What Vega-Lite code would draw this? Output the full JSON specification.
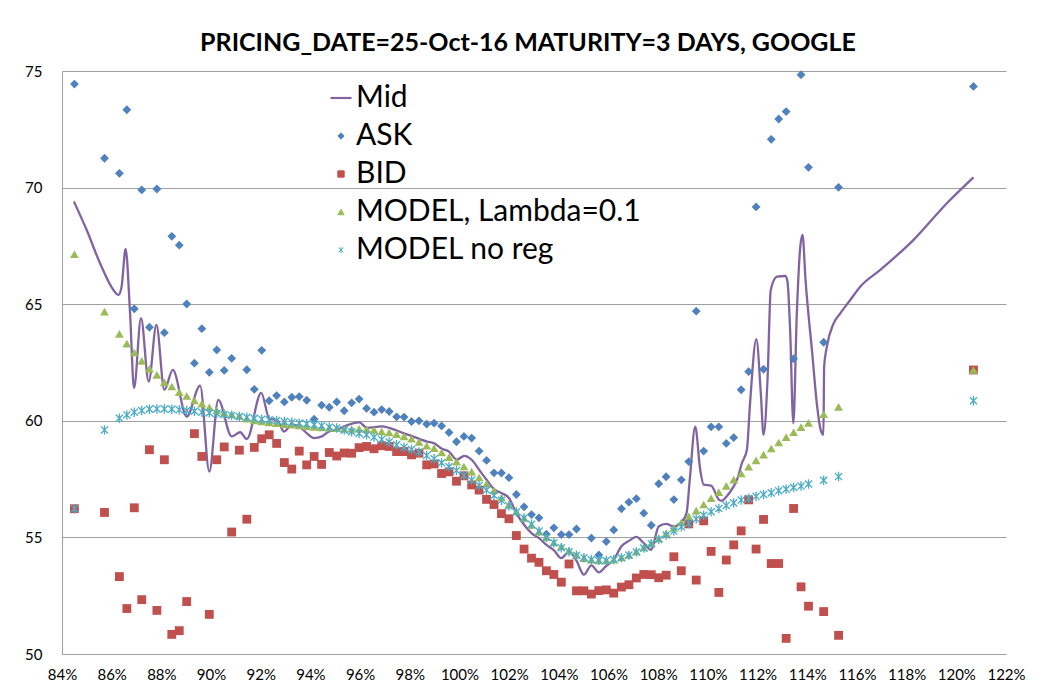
{
  "$schema": "https://vega.github.io/schema/vega-lite/v6.json",
  "width": 944,
  "height": 583,
  "autosize": {"type": "none"},
  "padding": {"left": 62, "top": 71, "right": 40, "bottom": 36},
  "background": "white",
  "title": {
    "text": "PRICING_DATE=25-Oct-16 MATURITY=3 DAYS, GOOGLE",
    "font": "Lato",
    "fontWeight": "bold",
    "fontSize": 25,
    "color": "#000000",
    "anchor": "middle",
    "offset": 8,
    "dx": -6
  },
  "config": {
    "view": {"stroke": null},
    "font": "Lato",
    "axis": {"labelFont": "Lato", "labelFontSize": 15, "labelColor": "#000000"}
  },
  "datasets": {
    "mid": [
      {"series": "Mid", "m": 84.48, "v": 69.40},
      {"series": "Mid", "m": 84.99, "v": 68.19},
      {"series": "Mid", "m": 85.53, "v": 66.76},
      {"series": "Mid", "m": 86.07, "v": 65.61},
      {"series": "Mid", "m": 86.27, "v": 65.40},
      {"series": "Mid", "m": 86.40, "v": 65.76},
      {"series": "Mid", "m": 86.56, "v": 67.37},
      {"series": "Mid", "m": 86.74, "v": 64.61},
      {"series": "Mid", "m": 86.90, "v": 61.40},
      {"series": "Mid", "m": 87.18, "v": 64.40},
      {"series": "Mid", "m": 87.49, "v": 61.68},
      {"series": "Mid", "m": 87.80, "v": 64.11},
      {"series": "Mid", "m": 88.12, "v": 61.33},
      {"series": "Mid", "m": 88.46, "v": 62.18},
      {"series": "Mid", "m": 89.02, "v": 60.18},
      {"series": "Mid", "m": 89.56, "v": 61.51},
      {"series": "Mid", "m": 89.93, "v": 57.82},
      {"series": "Mid", "m": 90.29, "v": 60.90},
      {"series": "Mid", "m": 90.83, "v": 59.33},
      {"series": "Mid", "m": 91.17, "v": 59.51},
      {"series": "Mid", "m": 91.44, "v": 59.22},
      {"series": "Mid", "m": 92.02, "v": 61.20},
      {"series": "Mid", "m": 92.35, "v": 60.08},
      {"series": "Mid", "m": 92.65, "v": 60.04},
      {"series": "Mid", "m": 92.94, "v": 59.54},
      {"series": "Mid", "m": 93.25, "v": 59.83},
      {"series": "Mid", "m": 93.54, "v": 59.76},
      {"series": "Mid", "m": 93.85, "v": 59.47},
      {"series": "Mid", "m": 94.15, "v": 59.26},
      {"series": "Mid", "m": 94.46, "v": 59.33},
      {"series": "Mid", "m": 94.75, "v": 59.54},
      {"series": "Mid", "m": 95.06, "v": 59.61},
      {"series": "Mid", "m": 95.36, "v": 59.76},
      {"series": "Mid", "m": 95.97, "v": 59.93},
      {"series": "Mid", "m": 96.27, "v": 59.70},
      {"series": "Mid", "m": 96.87, "v": 59.76},
      {"series": "Mid", "m": 97.17, "v": 59.70},
      {"series": "Mid", "m": 97.74, "v": 59.47},
      {"series": "Mid", "m": 98.07, "v": 59.35},
      {"series": "Mid", "m": 98.69, "v": 59.11},
      {"series": "Mid", "m": 98.98, "v": 59.04},
      {"series": "Mid", "m": 99.29, "v": 58.80},
      {"series": "Mid", "m": 99.58, "v": 58.68},
      {"series": "Mid", "m": 99.89, "v": 58.33},
      {"series": "Mid", "m": 100.19, "v": 58.50},
      {"series": "Mid", "m": 100.49, "v": 58.33},
      {"series": "Mid", "m": 100.79, "v": 57.90},
      {"series": "Mid", "m": 101.09, "v": 57.47},
      {"series": "Mid", "m": 101.39, "v": 57.07},
      {"series": "Mid", "m": 101.69, "v": 56.90},
      {"series": "Mid", "m": 101.99, "v": 56.69},
      {"series": "Mid", "m": 102.29, "v": 56.04},
      {"series": "Mid", "m": 102.60, "v": 55.54},
      {"series": "Mid", "m": 102.90, "v": 55.18},
      {"series": "Mid", "m": 103.20, "v": 54.97},
      {"series": "Mid", "m": 103.50, "v": 54.68},
      {"series": "Mid", "m": 103.80, "v": 54.45},
      {"series": "Mid", "m": 104.10, "v": 54.11},
      {"series": "Mid", "m": 104.41, "v": 54.40},
      {"series": "Mid", "m": 104.71, "v": 54.00},
      {"series": "Mid", "m": 105.01, "v": 53.40},
      {"series": "Mid", "m": 105.31, "v": 53.80},
      {"series": "Mid", "m": 105.61, "v": 53.50},
      {"series": "Mid", "m": 105.91, "v": 53.78},
      {"series": "Mid", "m": 106.21, "v": 54.04},
      {"series": "Mid", "m": 106.52, "v": 54.62},
      {"series": "Mid", "m": 106.82, "v": 54.85},
      {"series": "Mid", "m": 107.12, "v": 55.02},
      {"series": "Mid", "m": 107.42, "v": 54.75},
      {"series": "Mid", "m": 107.72, "v": 54.47},
      {"series": "Mid", "m": 108.02, "v": 55.47},
      {"series": "Mid", "m": 108.32, "v": 55.58},
      {"series": "Mid", "m": 108.63, "v": 55.47},
      {"series": "Mid", "m": 108.93, "v": 55.65},
      {"series": "Mid", "m": 109.14, "v": 56.04},
      {"series": "Mid", "m": 109.28, "v": 57.60},
      {"series": "Mid", "m": 109.49, "v": 59.75},
      {"series": "Mid", "m": 109.69, "v": 57.90},
      {"series": "Mid", "m": 109.83, "v": 57.26},
      {"series": "Mid", "m": 110.13, "v": 57.22},
      {"series": "Mid", "m": 110.45, "v": 56.61},
      {"series": "Mid", "m": 110.56, "v": 56.57},
      {"series": "Mid", "m": 110.76, "v": 56.76},
      {"series": "Mid", "m": 111.03, "v": 57.18},
      {"series": "Mid", "m": 111.17, "v": 57.47},
      {"series": "Mid", "m": 111.37, "v": 58.19},
      {"series": "Mid", "m": 111.57, "v": 58.76},
      {"series": "Mid", "m": 111.70, "v": 60.80},
      {"series": "Mid", "m": 111.95, "v": 63.50},
      {"series": "Mid", "m": 112.13, "v": 61.19},
      {"series": "Mid", "m": 112.24, "v": 59.40},
      {"series": "Mid", "m": 112.40, "v": 61.76},
      {"series": "Mid", "m": 112.53, "v": 65.61},
      {"series": "Mid", "m": 112.78, "v": 66.18},
      {"series": "Mid", "m": 113.11, "v": 66.21},
      {"series": "Mid", "m": 113.20, "v": 66.00},
      {"series": "Mid", "m": 113.31, "v": 63.90},
      {"series": "Mid", "m": 113.44, "v": 59.90},
      {"series": "Mid", "m": 113.58, "v": 64.61},
      {"series": "Mid", "m": 113.72, "v": 67.47},
      {"series": "Mid", "m": 113.81, "v": 67.97},
      {"series": "Mid", "m": 113.93, "v": 66.04},
      {"series": "Mid", "m": 114.20, "v": 62.90},
      {"series": "Mid", "m": 114.40, "v": 60.60},
      {"series": "Mid", "m": 114.54, "v": 59.61},
      {"series": "Mid", "m": 114.65, "v": 59.40},
      {"series": "Mid", "m": 114.68, "v": 62.33},
      {"series": "Mid", "m": 114.79, "v": 63.18},
      {"series": "Mid", "m": 115.06, "v": 64.18},
      {"series": "Mid", "m": 115.33, "v": 64.61},
      {"series": "Mid", "m": 115.73, "v": 65.18},
      {"series": "Mid", "m": 116.14, "v": 65.76},
      {"series": "Mid", "m": 116.94, "v": 66.47},
      {"series": "Mid", "m": 118.28, "v": 67.76},
      {"series": "Mid", "m": 119.62, "v": 69.33},
      {"series": "Mid", "m": 120.69, "v": 70.44}
    ],
    "quotes": [
      {"series": "ASK", "m": 84.50, "v": 74.44},
      {"series": "ASK", "m": 85.71, "v": 71.26},
      {"series": "ASK", "m": 86.31, "v": 70.61},
      {"series": "ASK", "m": 86.61, "v": 73.34},
      {"series": "ASK", "m": 86.91, "v": 64.80},
      {"series": "ASK", "m": 87.21, "v": 69.90},
      {"series": "ASK", "m": 87.52, "v": 64.01},
      {"series": "ASK", "m": 87.82, "v": 69.94},
      {"series": "ASK", "m": 88.12, "v": 63.78},
      {"series": "ASK", "m": 88.42, "v": 67.91},
      {"series": "ASK", "m": 88.72, "v": 67.53},
      {"series": "ASK", "m": 89.02, "v": 65.01},
      {"series": "ASK", "m": 89.33, "v": 62.47},
      {"series": "ASK", "m": 89.63, "v": 63.95},
      {"series": "ASK", "m": 89.93, "v": 62.08},
      {"series": "ASK", "m": 90.23, "v": 63.04},
      {"series": "ASK", "m": 90.53, "v": 62.16},
      {"series": "ASK", "m": 90.83, "v": 62.68},
      {"series": "ASK", "m": 91.44, "v": 62.19},
      {"series": "ASK", "m": 91.74, "v": 61.35},
      {"series": "ASK", "m": 92.04, "v": 63.02},
      {"series": "ASK", "m": 92.34, "v": 60.86},
      {"series": "ASK", "m": 92.64, "v": 61.08},
      {"series": "ASK", "m": 92.95, "v": 60.81},
      {"series": "ASK", "m": 93.25, "v": 61.01},
      {"series": "ASK", "m": 93.55, "v": 61.04},
      {"series": "ASK", "m": 93.85, "v": 60.88},
      {"series": "ASK", "m": 94.15, "v": 60.07},
      {"series": "ASK", "m": 94.45, "v": 60.67},
      {"series": "ASK", "m": 94.76, "v": 60.58},
      {"series": "ASK", "m": 95.06, "v": 60.81},
      {"series": "ASK", "m": 95.36, "v": 60.43},
      {"series": "ASK", "m": 95.66, "v": 60.77},
      {"series": "ASK", "m": 95.96, "v": 60.93},
      {"series": "ASK", "m": 96.26, "v": 60.53},
      {"series": "ASK", "m": 96.56, "v": 60.37},
      {"series": "ASK", "m": 96.87, "v": 60.48},
      {"series": "ASK", "m": 97.17, "v": 60.40},
      {"series": "ASK", "m": 97.47, "v": 60.17},
      {"series": "ASK", "m": 97.77, "v": 60.16},
      {"series": "ASK", "m": 98.07, "v": 59.97},
      {"series": "ASK", "m": 98.37, "v": 60.00},
      {"series": "ASK", "m": 98.68, "v": 59.86},
      {"series": "ASK", "m": 98.98, "v": 59.90},
      {"series": "ASK", "m": 99.28, "v": 59.78},
      {"series": "ASK", "m": 99.58, "v": 59.50},
      {"series": "ASK", "m": 99.88, "v": 59.10},
      {"series": "ASK", "m": 100.18, "v": 59.33},
      {"series": "ASK", "m": 100.49, "v": 59.26},
      {"series": "ASK", "m": 100.79, "v": 58.70},
      {"series": "ASK", "m": 101.09, "v": 58.30},
      {"series": "ASK", "m": 101.39, "v": 57.77},
      {"series": "ASK", "m": 101.69, "v": 57.76},
      {"series": "ASK", "m": 101.99, "v": 57.56},
      {"series": "ASK", "m": 102.29, "v": 56.84},
      {"series": "ASK", "m": 102.60, "v": 56.31},
      {"series": "ASK", "m": 102.90, "v": 55.98},
      {"series": "ASK", "m": 103.20, "v": 55.84},
      {"series": "ASK", "m": 103.50, "v": 55.14},
      {"series": "ASK", "m": 103.80, "v": 55.41},
      {"series": "ASK", "m": 104.10, "v": 55.12},
      {"series": "ASK", "m": 104.41, "v": 55.12},
      {"series": "ASK", "m": 104.71, "v": 55.36},
      {"series": "ASK", "m": 105.31, "v": 54.97},
      {"series": "ASK", "m": 105.61, "v": 54.25},
      {"series": "ASK", "m": 105.91, "v": 54.82},
      {"series": "ASK", "m": 106.21, "v": 55.32},
      {"series": "ASK", "m": 106.52, "v": 56.23},
      {"series": "ASK", "m": 106.82, "v": 56.51},
      {"series": "ASK", "m": 107.12, "v": 56.66},
      {"series": "ASK", "m": 107.42, "v": 56.04},
      {"series": "ASK", "m": 107.72, "v": 55.52},
      {"series": "ASK", "m": 108.02, "v": 57.30},
      {"series": "ASK", "m": 108.32, "v": 57.60},
      {"series": "ASK", "m": 108.63, "v": 56.62},
      {"series": "ASK", "m": 108.93, "v": 57.47},
      {"series": "ASK", "m": 109.23, "v": 58.25},
      {"series": "ASK", "m": 109.53, "v": 64.70},
      {"series": "ASK", "m": 109.83, "v": 58.70},
      {"series": "ASK", "m": 110.13, "v": 59.74},
      {"series": "ASK", "m": 110.44, "v": 59.74},
      {"series": "ASK", "m": 110.74, "v": 59.03},
      {"series": "ASK", "m": 111.04, "v": 59.28},
      {"series": "ASK", "m": 111.34, "v": 61.33},
      {"series": "ASK", "m": 111.64, "v": 62.11},
      {"series": "ASK", "m": 111.94, "v": 69.17},
      {"series": "ASK", "m": 112.24, "v": 62.21},
      {"series": "ASK", "m": 112.55, "v": 72.07},
      {"series": "ASK", "m": 112.85, "v": 72.94},
      {"series": "ASK", "m": 113.15, "v": 73.26},
      {"series": "ASK", "m": 113.45, "v": 62.66},
      {"series": "ASK", "m": 113.75, "v": 74.84},
      {"series": "ASK", "m": 114.05, "v": 70.87},
      {"series": "ASK", "m": 114.66, "v": 63.37},
      {"series": "ASK", "m": 115.26, "v": 70.01},
      {"series": "ASK", "m": 120.69, "v": 74.34},
      {"series": "BID", "m": 84.50, "v": 56.23},
      {"series": "BID", "m": 85.71, "v": 56.07},
      {"series": "BID", "m": 86.31, "v": 53.32},
      {"series": "BID", "m": 86.61, "v": 51.95},
      {"series": "BID", "m": 86.91, "v": 56.27},
      {"series": "BID", "m": 87.21, "v": 52.33},
      {"series": "BID", "m": 87.52, "v": 58.76},
      {"series": "BID", "m": 87.82, "v": 51.87},
      {"series": "BID", "m": 88.12, "v": 58.33},
      {"series": "BID", "m": 88.42, "v": 50.84},
      {"series": "BID", "m": 88.72, "v": 51.00},
      {"series": "BID", "m": 89.02, "v": 52.25},
      {"series": "BID", "m": 89.33, "v": 59.45},
      {"series": "BID", "m": 89.63, "v": 58.47},
      {"series": "BID", "m": 89.93, "v": 51.70},
      {"series": "BID", "m": 90.23, "v": 58.33},
      {"series": "BID", "m": 90.53, "v": 58.88},
      {"series": "BID", "m": 90.83, "v": 55.23},
      {"series": "BID", "m": 91.14, "v": 58.74},
      {"series": "BID", "m": 91.44, "v": 55.78},
      {"series": "BID", "m": 91.74, "v": 58.86},
      {"series": "BID", "m": 92.04, "v": 59.23},
      {"series": "BID", "m": 92.34, "v": 59.40},
      {"series": "BID", "m": 92.64, "v": 59.03},
      {"series": "BID", "m": 92.95, "v": 58.21},
      {"series": "BID", "m": 93.25, "v": 57.93},
      {"series": "BID", "m": 93.55, "v": 58.70},
      {"series": "BID", "m": 93.85, "v": 58.11},
      {"series": "BID", "m": 94.15, "v": 58.47},
      {"series": "BID", "m": 94.45, "v": 58.13},
      {"series": "BID", "m": 94.76, "v": 58.64},
      {"series": "BID", "m": 95.06, "v": 58.49},
      {"series": "BID", "m": 95.36, "v": 58.62},
      {"series": "BID", "m": 95.66, "v": 58.61},
      {"series": "BID", "m": 95.96, "v": 58.85},
      {"series": "BID", "m": 96.26, "v": 58.90},
      {"series": "BID", "m": 96.56, "v": 58.80},
      {"series": "BID", "m": 96.87, "v": 58.93},
      {"series": "BID", "m": 97.17, "v": 58.90},
      {"series": "BID", "m": 97.47, "v": 58.68},
      {"series": "BID", "m": 97.77, "v": 58.68},
      {"series": "BID", "m": 98.07, "v": 58.54},
      {"series": "BID", "m": 98.37, "v": 58.61},
      {"series": "BID", "m": 98.68, "v": 58.11},
      {"series": "BID", "m": 98.98, "v": 58.15},
      {"series": "BID", "m": 99.28, "v": 57.74},
      {"series": "BID", "m": 99.58, "v": 57.81},
      {"series": "BID", "m": 99.88, "v": 57.41},
      {"series": "BID", "m": 100.18, "v": 57.64},
      {"series": "BID", "m": 100.49, "v": 57.25},
      {"series": "BID", "m": 100.79, "v": 57.03},
      {"series": "BID", "m": 101.09, "v": 56.63},
      {"series": "BID", "m": 101.39, "v": 56.41},
      {"series": "BID", "m": 101.69, "v": 56.02},
      {"series": "BID", "m": 101.99, "v": 55.80},
      {"series": "BID", "m": 102.29, "v": 55.08},
      {"series": "BID", "m": 102.60, "v": 54.50},
      {"series": "BID", "m": 102.90, "v": 54.11},
      {"series": "BID", "m": 103.20, "v": 53.93},
      {"series": "BID", "m": 103.50, "v": 53.57},
      {"series": "BID", "m": 103.80, "v": 53.41},
      {"series": "BID", "m": 104.10, "v": 53.08},
      {"series": "BID", "m": 104.41, "v": 53.86},
      {"series": "BID", "m": 104.71, "v": 52.71},
      {"series": "BID", "m": 105.01, "v": 52.71},
      {"series": "BID", "m": 105.31, "v": 52.57},
      {"series": "BID", "m": 105.61, "v": 52.72},
      {"series": "BID", "m": 105.91, "v": 52.75},
      {"series": "BID", "m": 106.21, "v": 52.61},
      {"series": "BID", "m": 106.52, "v": 52.87},
      {"series": "BID", "m": 106.82, "v": 52.97},
      {"series": "BID", "m": 107.12, "v": 53.26},
      {"series": "BID", "m": 107.42, "v": 53.41},
      {"series": "BID", "m": 107.72, "v": 53.40},
      {"series": "BID", "m": 108.02, "v": 53.27},
      {"series": "BID", "m": 108.32, "v": 53.38},
      {"series": "BID", "m": 108.63, "v": 54.17},
      {"series": "BID", "m": 108.93, "v": 53.57},
      {"series": "BID", "m": 109.23, "v": 55.58},
      {"series": "BID", "m": 109.53, "v": 53.17},
      {"series": "BID", "m": 109.83, "v": 55.71},
      {"series": "BID", "m": 110.13, "v": 54.40},
      {"series": "BID", "m": 110.44, "v": 52.64},
      {"series": "BID", "m": 110.74, "v": 54.03},
      {"series": "BID", "m": 111.04, "v": 54.68},
      {"series": "BID", "m": 111.34, "v": 55.28},
      {"series": "BID", "m": 111.64, "v": 56.61},
      {"series": "BID", "m": 111.94, "v": 54.50},
      {"series": "BID", "m": 112.24, "v": 55.77},
      {"series": "BID", "m": 112.55, "v": 53.88},
      {"series": "BID", "m": 112.85, "v": 53.88},
      {"series": "BID", "m": 113.15, "v": 50.67},
      {"series": "BID", "m": 113.45, "v": 56.24},
      {"series": "BID", "m": 113.75, "v": 52.88},
      {"series": "BID", "m": 114.05, "v": 52.05},
      {"series": "BID", "m": 114.66, "v": 51.82},
      {"series": "BID", "m": 115.26, "v": 50.80},
      {"series": "BID", "m": 120.69, "v": 62.18},
      {"series": "MODEL, Lambda=0.1", "m": 84.50, "v": 67.14},
      {"series": "MODEL, Lambda=0.1", "m": 85.71, "v": 64.68},
      {"series": "MODEL, Lambda=0.1", "m": 86.31, "v": 63.73},
      {"series": "MODEL, Lambda=0.1", "m": 86.61, "v": 63.31},
      {"series": "MODEL, Lambda=0.1", "m": 86.91, "v": 62.93},
      {"series": "MODEL, Lambda=0.1", "m": 87.21, "v": 62.57},
      {"series": "MODEL, Lambda=0.1", "m": 87.52, "v": 62.24},
      {"series": "MODEL, Lambda=0.1", "m": 87.82, "v": 61.97},
      {"series": "MODEL, Lambda=0.1", "m": 88.12, "v": 61.66},
      {"series": "MODEL, Lambda=0.1", "m": 88.42, "v": 61.47},
      {"series": "MODEL, Lambda=0.1", "m": 88.72, "v": 61.23},
      {"series": "MODEL, Lambda=0.1", "m": 89.02, "v": 61.07},
      {"series": "MODEL, Lambda=0.1", "m": 89.33, "v": 60.87},
      {"series": "MODEL, Lambda=0.1", "m": 89.63, "v": 60.73},
      {"series": "MODEL, Lambda=0.1", "m": 89.93, "v": 60.58},
      {"series": "MODEL, Lambda=0.1", "m": 90.23, "v": 60.44},
      {"series": "MODEL, Lambda=0.1", "m": 90.53, "v": 60.35},
      {"series": "MODEL, Lambda=0.1", "m": 90.83, "v": 60.28},
      {"series": "MODEL, Lambda=0.1", "m": 91.14, "v": 60.21},
      {"series": "MODEL, Lambda=0.1", "m": 91.44, "v": 60.09},
      {"series": "MODEL, Lambda=0.1", "m": 91.74, "v": 60.02},
      {"series": "MODEL, Lambda=0.1", "m": 92.04, "v": 59.97},
      {"series": "MODEL, Lambda=0.1", "m": 92.34, "v": 59.93},
      {"series": "MODEL, Lambda=0.1", "m": 92.64, "v": 59.90},
      {"series": "MODEL, Lambda=0.1", "m": 92.95, "v": 59.86},
      {"series": "MODEL, Lambda=0.1", "m": 93.25, "v": 59.83},
      {"series": "MODEL, Lambda=0.1", "m": 93.55, "v": 59.80},
      {"series": "MODEL, Lambda=0.1", "m": 93.85, "v": 59.77},
      {"series": "MODEL, Lambda=0.1", "m": 94.15, "v": 59.74},
      {"series": "MODEL, Lambda=0.1", "m": 94.45, "v": 59.72},
      {"series": "MODEL, Lambda=0.1", "m": 94.76, "v": 59.70},
      {"series": "MODEL, Lambda=0.1", "m": 95.06, "v": 59.68},
      {"series": "MODEL, Lambda=0.1", "m": 95.36, "v": 59.66},
      {"series": "MODEL, Lambda=0.1", "m": 95.66, "v": 59.65},
      {"series": "MODEL, Lambda=0.1", "m": 95.96, "v": 59.66},
      {"series": "MODEL, Lambda=0.1", "m": 96.26, "v": 59.64},
      {"series": "MODEL, Lambda=0.1", "m": 96.56, "v": 59.61},
      {"series": "MODEL, Lambda=0.1", "m": 96.87, "v": 59.54},
      {"series": "MODEL, Lambda=0.1", "m": 97.17, "v": 59.50},
      {"series": "MODEL, Lambda=0.1", "m": 97.47, "v": 59.43},
      {"series": "MODEL, Lambda=0.1", "m": 97.77, "v": 59.33},
      {"series": "MODEL, Lambda=0.1", "m": 98.07, "v": 59.23},
      {"series": "MODEL, Lambda=0.1", "m": 98.37, "v": 59.09},
      {"series": "MODEL, Lambda=0.1", "m": 98.68, "v": 58.93},
      {"series": "MODEL, Lambda=0.1", "m": 98.98, "v": 58.83},
      {"series": "MODEL, Lambda=0.1", "m": 99.28, "v": 58.64},
      {"series": "MODEL, Lambda=0.1", "m": 99.58, "v": 58.44},
      {"series": "MODEL, Lambda=0.1", "m": 99.88, "v": 58.25},
      {"series": "MODEL, Lambda=0.1", "m": 100.18, "v": 58.04},
      {"series": "MODEL, Lambda=0.1", "m": 100.49, "v": 57.82},
      {"series": "MODEL, Lambda=0.1", "m": 100.79, "v": 57.57},
      {"series": "MODEL, Lambda=0.1", "m": 101.09, "v": 57.30},
      {"series": "MODEL, Lambda=0.1", "m": 101.39, "v": 57.01},
      {"series": "MODEL, Lambda=0.1", "m": 101.69, "v": 56.71},
      {"series": "MODEL, Lambda=0.1", "m": 101.99, "v": 56.40},
      {"series": "MODEL, Lambda=0.1", "m": 102.29, "v": 56.11},
      {"series": "MODEL, Lambda=0.1", "m": 102.60, "v": 55.83},
      {"series": "MODEL, Lambda=0.1", "m": 102.90, "v": 55.54},
      {"series": "MODEL, Lambda=0.1", "m": 103.20, "v": 55.25},
      {"series": "MODEL, Lambda=0.1", "m": 103.50, "v": 55.01},
      {"series": "MODEL, Lambda=0.1", "m": 103.80, "v": 54.78},
      {"series": "MODEL, Lambda=0.1", "m": 104.10, "v": 54.61},
      {"series": "MODEL, Lambda=0.1", "m": 104.41, "v": 54.43},
      {"series": "MODEL, Lambda=0.1", "m": 104.71, "v": 54.25},
      {"series": "MODEL, Lambda=0.1", "m": 105.01, "v": 54.11},
      {"series": "MODEL, Lambda=0.1", "m": 105.31, "v": 54.04},
      {"series": "MODEL, Lambda=0.1", "m": 105.61, "v": 54.01},
      {"series": "MODEL, Lambda=0.1", "m": 105.91, "v": 54.01},
      {"series": "MODEL, Lambda=0.1", "m": 106.21, "v": 54.04},
      {"series": "MODEL, Lambda=0.1", "m": 106.52, "v": 54.14},
      {"series": "MODEL, Lambda=0.1", "m": 106.82, "v": 54.25},
      {"series": "MODEL, Lambda=0.1", "m": 107.12, "v": 54.40},
      {"series": "MODEL, Lambda=0.1", "m": 107.42, "v": 54.57},
      {"series": "MODEL, Lambda=0.1", "m": 107.72, "v": 54.75},
      {"series": "MODEL, Lambda=0.1", "m": 108.02, "v": 54.96},
      {"series": "MODEL, Lambda=0.1", "m": 108.32, "v": 55.18},
      {"series": "MODEL, Lambda=0.1", "m": 108.63, "v": 55.41},
      {"series": "MODEL, Lambda=0.1", "m": 108.93, "v": 55.64},
      {"series": "MODEL, Lambda=0.1", "m": 109.23, "v": 55.90},
      {"series": "MODEL, Lambda=0.1", "m": 109.53, "v": 56.15},
      {"series": "MODEL, Lambda=0.1", "m": 109.83, "v": 56.41},
      {"series": "MODEL, Lambda=0.1", "m": 110.13, "v": 56.68},
      {"series": "MODEL, Lambda=0.1", "m": 110.44, "v": 56.94},
      {"series": "MODEL, Lambda=0.1", "m": 110.74, "v": 57.21},
      {"series": "MODEL, Lambda=0.1", "m": 111.04, "v": 57.48},
      {"series": "MODEL, Lambda=0.1", "m": 111.34, "v": 57.74},
      {"series": "MODEL, Lambda=0.1", "m": 111.64, "v": 58.03},
      {"series": "MODEL, Lambda=0.1", "m": 111.94, "v": 58.30},
      {"series": "MODEL, Lambda=0.1", "m": 112.24, "v": 58.55},
      {"series": "MODEL, Lambda=0.1", "m": 112.55, "v": 58.81},
      {"series": "MODEL, Lambda=0.1", "m": 112.85, "v": 59.07},
      {"series": "MODEL, Lambda=0.1", "m": 113.15, "v": 59.30},
      {"series": "MODEL, Lambda=0.1", "m": 113.45, "v": 59.51},
      {"series": "MODEL, Lambda=0.1", "m": 113.75, "v": 59.73},
      {"series": "MODEL, Lambda=0.1", "m": 114.05, "v": 59.91},
      {"series": "MODEL, Lambda=0.1", "m": 114.66, "v": 60.28},
      {"series": "MODEL, Lambda=0.1", "m": 115.26, "v": 60.60},
      {"series": "MODEL, Lambda=0.1", "m": 120.69, "v": 62.18},
      {"series": "MODEL no reg", "m": 84.50, "v": 56.23},
      {"series": "MODEL no reg", "m": 85.71, "v": 59.61},
      {"series": "MODEL no reg", "m": 86.31, "v": 60.11},
      {"series": "MODEL no reg", "m": 86.61, "v": 60.25},
      {"series": "MODEL no reg", "m": 86.91, "v": 60.37},
      {"series": "MODEL no reg", "m": 87.21, "v": 60.44},
      {"series": "MODEL no reg", "m": 87.52, "v": 60.50},
      {"series": "MODEL no reg", "m": 87.82, "v": 60.51},
      {"series": "MODEL no reg", "m": 88.12, "v": 60.51},
      {"series": "MODEL no reg", "m": 88.42, "v": 60.50},
      {"series": "MODEL no reg", "m": 88.72, "v": 60.47},
      {"series": "MODEL no reg", "m": 89.02, "v": 60.44},
      {"series": "MODEL no reg", "m": 89.33, "v": 60.41},
      {"series": "MODEL no reg", "m": 89.63, "v": 60.37},
      {"series": "MODEL no reg", "m": 89.93, "v": 60.34},
      {"series": "MODEL no reg", "m": 90.23, "v": 60.31},
      {"series": "MODEL no reg", "m": 90.53, "v": 60.27},
      {"series": "MODEL no reg", "m": 90.83, "v": 60.23},
      {"series": "MODEL no reg", "m": 91.14, "v": 60.18},
      {"series": "MODEL no reg", "m": 91.44, "v": 60.15},
      {"series": "MODEL no reg", "m": 91.74, "v": 60.11},
      {"series": "MODEL no reg", "m": 92.04, "v": 60.07},
      {"series": "MODEL no reg", "m": 92.34, "v": 60.04},
      {"series": "MODEL no reg", "m": 92.64, "v": 60.01},
      {"series": "MODEL no reg", "m": 92.95, "v": 59.97},
      {"series": "MODEL no reg", "m": 93.25, "v": 59.94},
      {"series": "MODEL no reg", "m": 93.55, "v": 59.90},
      {"series": "MODEL no reg", "m": 93.85, "v": 59.87},
      {"series": "MODEL no reg", "m": 94.15, "v": 59.83},
      {"series": "MODEL no reg", "m": 94.45, "v": 59.79},
      {"series": "MODEL no reg", "m": 94.76, "v": 59.73},
      {"series": "MODEL no reg", "m": 95.06, "v": 59.69},
      {"series": "MODEL no reg", "m": 95.36, "v": 59.60},
      {"series": "MODEL no reg", "m": 95.66, "v": 59.53},
      {"series": "MODEL no reg", "m": 95.96, "v": 59.46},
      {"series": "MODEL no reg", "m": 96.26, "v": 59.40},
      {"series": "MODEL no reg", "m": 96.56, "v": 59.30},
      {"series": "MODEL no reg", "m": 96.87, "v": 59.20},
      {"series": "MODEL no reg", "m": 97.17, "v": 59.09},
      {"series": "MODEL no reg", "m": 97.47, "v": 58.97},
      {"series": "MODEL no reg", "m": 97.77, "v": 58.87},
      {"series": "MODEL no reg", "m": 98.07, "v": 58.77},
      {"series": "MODEL no reg", "m": 98.37, "v": 58.66},
      {"series": "MODEL no reg", "m": 98.68, "v": 58.51},
      {"series": "MODEL no reg", "m": 98.98, "v": 58.37},
      {"series": "MODEL no reg", "m": 99.28, "v": 58.20},
      {"series": "MODEL no reg", "m": 99.58, "v": 58.03},
      {"series": "MODEL no reg", "m": 99.88, "v": 57.87},
      {"series": "MODEL no reg", "m": 100.18, "v": 57.66},
      {"series": "MODEL no reg", "m": 100.49, "v": 57.46},
      {"series": "MODEL no reg", "m": 100.79, "v": 57.23},
      {"series": "MODEL no reg", "m": 101.09, "v": 57.03},
      {"series": "MODEL no reg", "m": 101.39, "v": 56.80},
      {"series": "MODEL no reg", "m": 101.69, "v": 56.59},
      {"series": "MODEL no reg", "m": 101.99, "v": 56.35},
      {"series": "MODEL no reg", "m": 102.29, "v": 56.09},
      {"series": "MODEL no reg", "m": 102.60, "v": 55.83},
      {"series": "MODEL no reg", "m": 102.90, "v": 55.56},
      {"series": "MODEL no reg", "m": 103.20, "v": 55.27},
      {"series": "MODEL no reg", "m": 103.50, "v": 55.01},
      {"series": "MODEL no reg", "m": 103.80, "v": 54.77},
      {"series": "MODEL no reg", "m": 104.10, "v": 54.56},
      {"series": "MODEL no reg", "m": 104.41, "v": 54.38},
      {"series": "MODEL no reg", "m": 104.71, "v": 54.23},
      {"series": "MODEL no reg", "m": 105.01, "v": 54.13},
      {"series": "MODEL no reg", "m": 105.31, "v": 54.05},
      {"series": "MODEL no reg", "m": 105.61, "v": 54.01},
      {"series": "MODEL no reg", "m": 105.91, "v": 54.01},
      {"series": "MODEL no reg", "m": 106.21, "v": 54.05},
      {"series": "MODEL no reg", "m": 106.52, "v": 54.13},
      {"series": "MODEL no reg", "m": 106.82, "v": 54.24},
      {"series": "MODEL no reg", "m": 107.12, "v": 54.37},
      {"series": "MODEL no reg", "m": 107.42, "v": 54.54},
      {"series": "MODEL no reg", "m": 107.72, "v": 54.73},
      {"series": "MODEL no reg", "m": 108.02, "v": 54.91},
      {"series": "MODEL no reg", "m": 108.32, "v": 55.10},
      {"series": "MODEL no reg", "m": 108.63, "v": 55.27},
      {"series": "MODEL no reg", "m": 108.93, "v": 55.46},
      {"series": "MODEL no reg", "m": 109.23, "v": 55.60},
      {"series": "MODEL no reg", "m": 109.53, "v": 55.79},
      {"series": "MODEL no reg", "m": 109.83, "v": 55.95},
      {"series": "MODEL no reg", "m": 110.13, "v": 56.10},
      {"series": "MODEL no reg", "m": 110.44, "v": 56.24},
      {"series": "MODEL no reg", "m": 110.74, "v": 56.37},
      {"series": "MODEL no reg", "m": 111.04, "v": 56.48},
      {"series": "MODEL no reg", "m": 111.34, "v": 56.60},
      {"series": "MODEL no reg", "m": 111.64, "v": 56.67},
      {"series": "MODEL no reg", "m": 111.94, "v": 56.76},
      {"series": "MODEL no reg", "m": 112.24, "v": 56.84},
      {"series": "MODEL no reg", "m": 112.55, "v": 56.91},
      {"series": "MODEL no reg", "m": 112.85, "v": 57.00},
      {"series": "MODEL no reg", "m": 113.15, "v": 57.07},
      {"series": "MODEL no reg", "m": 113.45, "v": 57.14},
      {"series": "MODEL no reg", "m": 113.75, "v": 57.20},
      {"series": "MODEL no reg", "m": 114.05, "v": 57.29},
      {"series": "MODEL no reg", "m": 114.66, "v": 57.45},
      {"series": "MODEL no reg", "m": 115.26, "v": 57.61},
      {"series": "MODEL no reg", "m": 120.69, "v": 60.86}
    ]
  },
  "encoding": {
    "x": {
      "field": "m",
      "type": "quantitative",
      "scale": {"domain": [84, 122], "nice": false, "zero": false},
      "axis": {
        "title": null,
        "values": [84, 86, 88, 90, 92, 94, 96, 98, 100, 102, 104, 106, 108, 110, 112, 114, 116, 118, 120, 122],
        "labelExpr": "datum.value + '%'",
        "grid": false,
        "ticks": false,
        "domain": true,
        "domainColor": "#A0A0A0",
        "labelPadding": 13,
        "labelFlush": false,
        "labelOverlap": false
      }
    },
    "y": {
      "field": "v",
      "type": "quantitative",
      "scale": {"domain": [50, 75], "nice": false, "zero": false},
      "axis": {
        "title": null,
        "values": [50, 55, 60, 65, 70, 75],
        "grid": true,
        "gridColor": "#A0A0A0",
        "gridOpacity": 1,
        "ticks": false,
        "domain": true,
        "domainColor": "#A0A0A0",
        "labelPadding": 20
      }
    },
    "color": {
      "field": "series",
      "type": "nominal",
      "scale": {
        "domain": ["Mid", "ASK", "BID", "MODEL, Lambda=0.1", "MODEL no reg"],
        "range": ["#8064A2", "#4F81BD", "#C0504D", "#9BBB59", "#4BACC6"]
      },
      "legend": {
        "orient": "none",
        "legendX": 264,
        "legendY": 12,
        "title": null,
        "labelFont": "Lato",
        "labelFontSize": 30,
        "labelColor": "#000000",
        "labelOffset": 0,
        "rowPadding": 8,
        "labelLimit": 400,
        "encode": {
          "symbols": {
            "update": {
              "fill": {"scale": "color", "field": "value"},
              "stroke": {"scale": "color", "field": "value"},
              "size": {"signal": "datum.value === 'Mid' ? 441 : 40"},
              "strokeWidth": {"signal": "datum.value === 'Mid' ? 2.2 : 1"},
              "opacity": {"value": 1}
            }
          }
        }
      }
    }
  },
  "layer": [
    {
      "data": {"name": "mid"},
      "mark": {"type": "line", "interpolate": "monotone", "strokeWidth": 2.3}
    },
    {
      "data": {"name": "quotes"},
      "transform": [{"filter": "datum.series !== 'MODEL no reg'"}],
      "mark": {"type": "point", "filled": true, "size": 78, "opacity": 1},
      "encoding": {
        "shape": {
          "field": "series",
          "type": "nominal",
          "scale": {
            "domain": ["Mid", "ASK", "BID", "MODEL, Lambda=0.1", "MODEL no reg"],
            "range": ["stroke", "diamond", "square", "triangle-up", "M-0.75,-0.75L0.75,0.75M-0.75,0.75L0.75,-0.75M0,-1V1"]
          }
        }
      }
    },
    {
      "data": {"name": "quotes"},
      "transform": [{"filter": "datum.series === 'MODEL no reg'"}],
      "mark": {"type": "point", "filled": false, "size": 90, "strokeWidth": 1.3, "opacity": 1},
      "encoding": {
        "shape": {
          "field": "series",
          "type": "nominal",
          "scale": {
            "domain": ["Mid", "ASK", "BID", "MODEL, Lambda=0.1", "MODEL no reg"],
            "range": ["stroke", "diamond", "square", "triangle-up", "M-0.75,-0.75L0.75,0.75M-0.75,0.75L0.75,-0.75M0,-1V1"]
          }
        }
      }
    }
  ]
}
